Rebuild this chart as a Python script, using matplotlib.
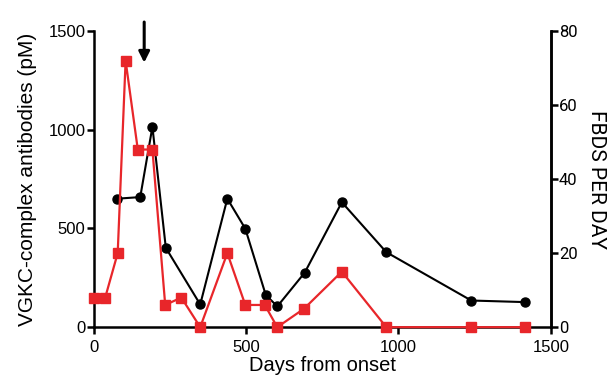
import matplotlib
matplotlib.use('Agg')
import matplotlib.pyplot as plt

# VGKC-complex antibodies (pM), left axis
ab_days = [77, 152, 192, 236, 349, 438, 497, 564, 602, 692, 814, 960, 1239, 1415]
ab_pm = [651, 659, 1015, 402, 115, 651, 499, 164, 105, 276, 633, 380, 135, 127]

# FBDS per day, right axis
fb_days = [0, 37, 78, 104, 144, 192, 234, 287, 349, 438, 497, 561, 602, 690, 814, 960, 1239, 1415]
fb_count = [8, 8, 20, 72, 48, 48, 6, 8, 0, 20, 6, 6, 0, 5, 15, 0, 0, 0]

ARROW_DAY = 165
RED = '#e8262a'

plt.rcParams['font.family'] = ['Liberation Sans', 'DejaVu Sans']

fig = plt.figure(figsize=(6.14, 3.84), dpi=100)
ax = fig.add_axes([0.153, 0.148, 0.744, 0.771])
ax2 = ax.twinx()

ax.plot(ab_days, ab_pm, color='black', linewidth=1.5, marker='o', markersize=6.5,
        clip_on=False, zorder=3)
ax2.plot(fb_days, fb_count, color=RED, linewidth=1.6, marker='s', markersize=7,
         clip_on=False, zorder=3)

ax.set_xlim(0, 1500)
ax.set_ylim(0, 1500)
ax2.set_ylim(0, 80)
ax.set_xticks([0, 500, 1000, 1500])
ax.set_yticks([0, 500, 1000, 1500])
ax2.set_yticks([0, 20, 40, 60, 80])

for a in (ax, ax2):
    a.spines['top'].set_visible(False)
    for s in a.spines.values():
        s.set_linewidth(1.8)
    a.tick_params(width=1.8, length=5, labelsize=12, pad=1)
ax.tick_params(axis='x', pad=4)
ax2.spines['left'].set_visible(False)
ax2.spines['bottom'].set_visible(False)
for lbl in ax2.get_yticklabels():
    lbl.set_family('Roboto')
    lbl.set_fontsize(12)

ax.set_xlabel('Days from onset', fontsize=14.5, labelpad=1)
ax.set_ylabel('VGKC-complex antibodies (pM)', fontsize=15, labelpad=8)
ax2.set_ylabel('FBDS PER DAY', fontsize=15, rotation=-90, labelpad=20, family='Roboto')

ax.annotate('', xy=(ARROW_DAY, 1326), xytext=(ARROW_DAY, 1560),
            arrowprops=dict(arrowstyle='-|>', color='black', lw=2.2, mutation_scale=16),
            annotation_clip=False)

fig.savefig('out.png', dpi=100)
